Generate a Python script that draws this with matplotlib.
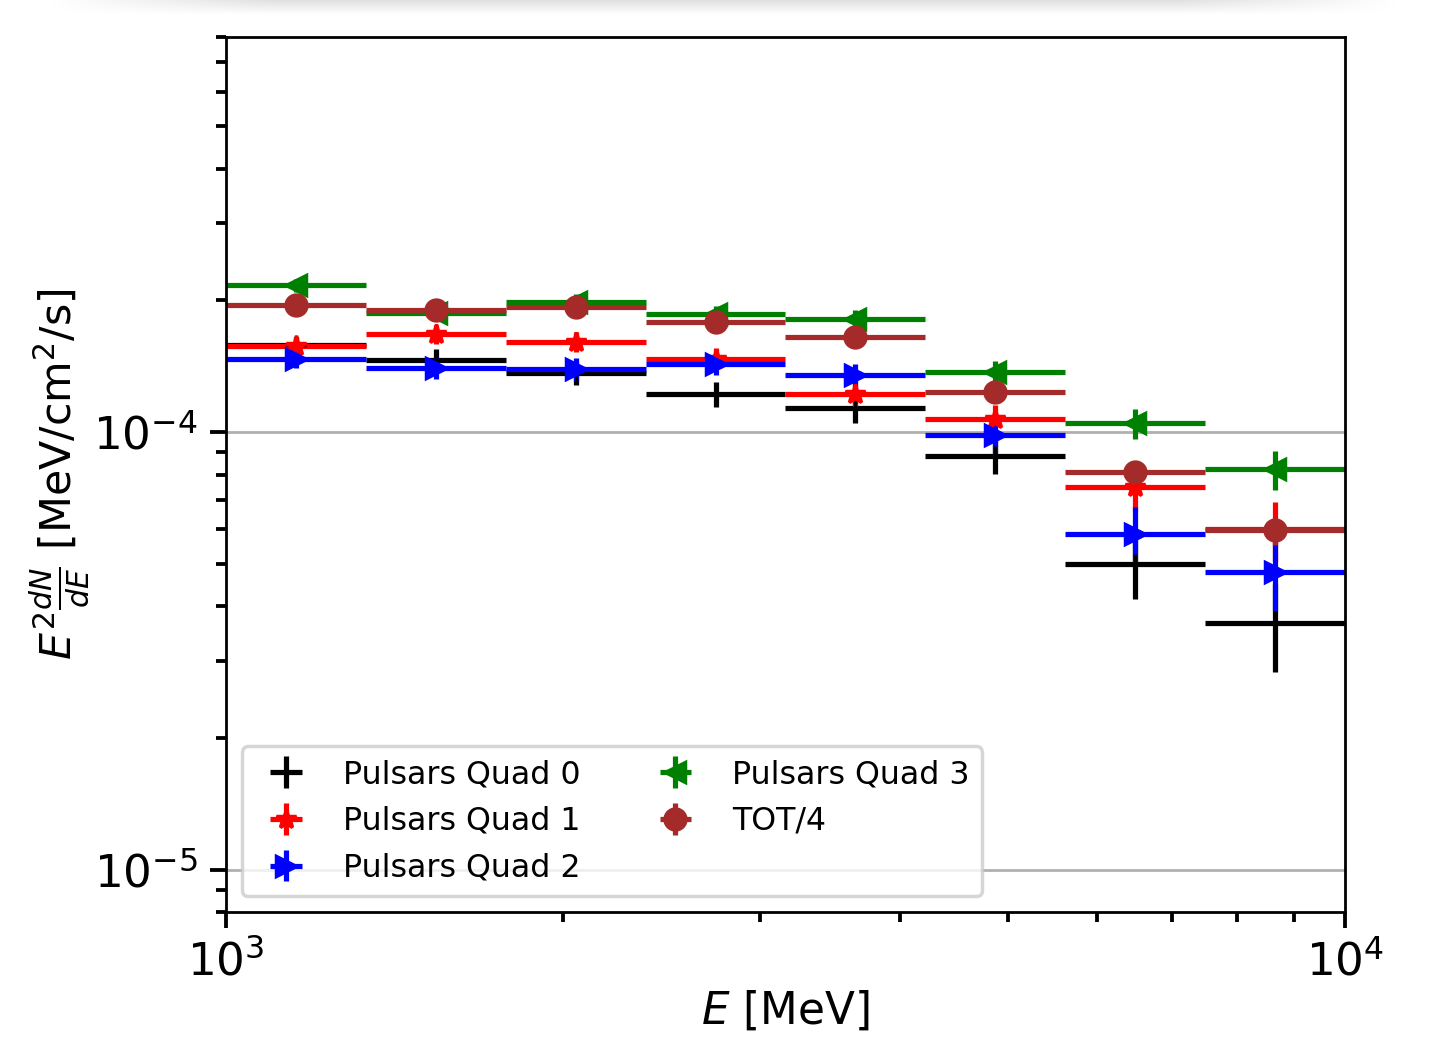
import matplotlib
matplotlib.use('Agg')
import matplotlib.pyplot as plt
import numpy as np

# energy bins (MeV), 8 log bins from 1 GeV to 10 GeV
E_lo = np.array([1000.0, 1333.5, 1778.3, 2371.4, 3162.3, 4217.0, 5623.4, 7498.9])
E_hi = np.array([1333.5, 1778.3, 2371.4, 3162.3, 4217.0, 5623.4, 7498.9, 10000.0])
E_c = np.array([1154.8, 1539.9, 2053.5, 2738.4, 3651.7, 4869.7, 6493.8, 8659.6])

# E^2 dN/dE  [MeV/cm^2/s]
q0 = np.array([1.580, 1.460, 1.366, 1.221, 1.134, 0.883, 0.4995, 0.366]) * 1e-4
q1 = np.array([1.577, 1.674, 1.608, 1.473, 1.223, 1.069, 0.750, 0.600]) * 1e-4
q2 = np.array([1.473, 1.405, 1.393, 1.428, 1.349, 0.983, 0.585, 0.480]) * 1e-4
q3 = np.array([2.166, 1.873, 1.984, 1.866, 1.818, 1.371, 1.047, 0.822]) * 1e-4
tot4 = np.array([1.950, 1.899, 1.932, 1.785, 1.651, 1.232, 0.812, 0.597]) * 1e-4

q0_err = np.array([0.070, 0.090, 0.085, 0.080, 0.085, 0.080, 0.085, 0.083]) * 1e-4
q1_err = np.array([0.070, 0.086, 0.085, 0.080, 0.085, 0.083, 0.088, 0.092]) * 1e-4
q2_err = np.array([0.070, 0.080, 0.085, 0.080, 0.085, 0.085, 0.089, 0.090]) * 1e-4
q3_err = np.array([0.070, 0.080, 0.080, 0.080, 0.082, 0.082, 0.081, 0.084]) * 1e-4
tot4_err = np.array([0.040, 0.040, 0.040, 0.040, 0.040, 0.040, 0.042, 0.044]) * 1e-4

xerr = [E_c - E_lo, E_hi - E_c]

fig = plt.figure(figsize=(1434/250, 1037/250), dpi=250)

# faint grey shadow along the top edge of the screenshot
band = fig.add_axes([0.03, 0.986, 0.95, 0.014])
g = np.outer(np.linspace(0.0, 1.0, 20), np.ones(200))
edge = np.minimum(1.0, np.minimum(np.linspace(0, 1, 200), np.linspace(1, 0, 200)) * 6)
band.imshow(0.88 + 0.12 * (1 - (1 - g) * edge[None, :]), cmap='gray', vmin=0, vmax=1,
            aspect='auto', origin='upper')
band.axis('off')

ax = fig.add_axes([0.1576, 0.1205, 0.7803, 0.8438])

ax.errorbar(E_c, q0, xerr=xerr, yerr=q0_err, fmt='+', color='black', label='Pulsars Quad 0')
ax.errorbar(E_c, q1, xerr=xerr, yerr=q1_err, fmt='*', color='red', label='Pulsars Quad 1')
ax.errorbar(E_c, q2, xerr=xerr, yerr=q2_err, fmt='>', color='blue', label='Pulsars Quad 2')
ax.errorbar(E_c, q3, xerr=xerr, yerr=q3_err, fmt='<', color='green', label='Pulsars Quad 3')
ax.errorbar(E_c, tot4, xerr=xerr, yerr=tot4_err, fmt='o', color='brown', label='TOT/4')

ax.set_xscale('log')
ax.set_yscale('log')
ax.set_xlim(1e3, 1e4)
ax.set_ylim(8e-6, 8e-4)
ax.grid(True, which='major', axis='y')

ax.tick_params(which='major', labelsize=13, length=4.6, width=1.1)
ax.tick_params(which='minor', length=2.9, width=1.1)
ax.set_xlabel(r'$E$ [MeV]', fontsize=12.6)
ax.set_ylabel(r'$E^2\frac{dN}{dE}$ [MeV/cm$^2$/s]', fontsize=12.3)
ax.xaxis.set_label_coords(0.5, -0.088)
ax.yaxis.set_label_coords(-0.121, 0.5)
ax.legend(loc='lower left', ncol=2, fontsize=9.1)

plt.savefig('out.png', dpi=250)
